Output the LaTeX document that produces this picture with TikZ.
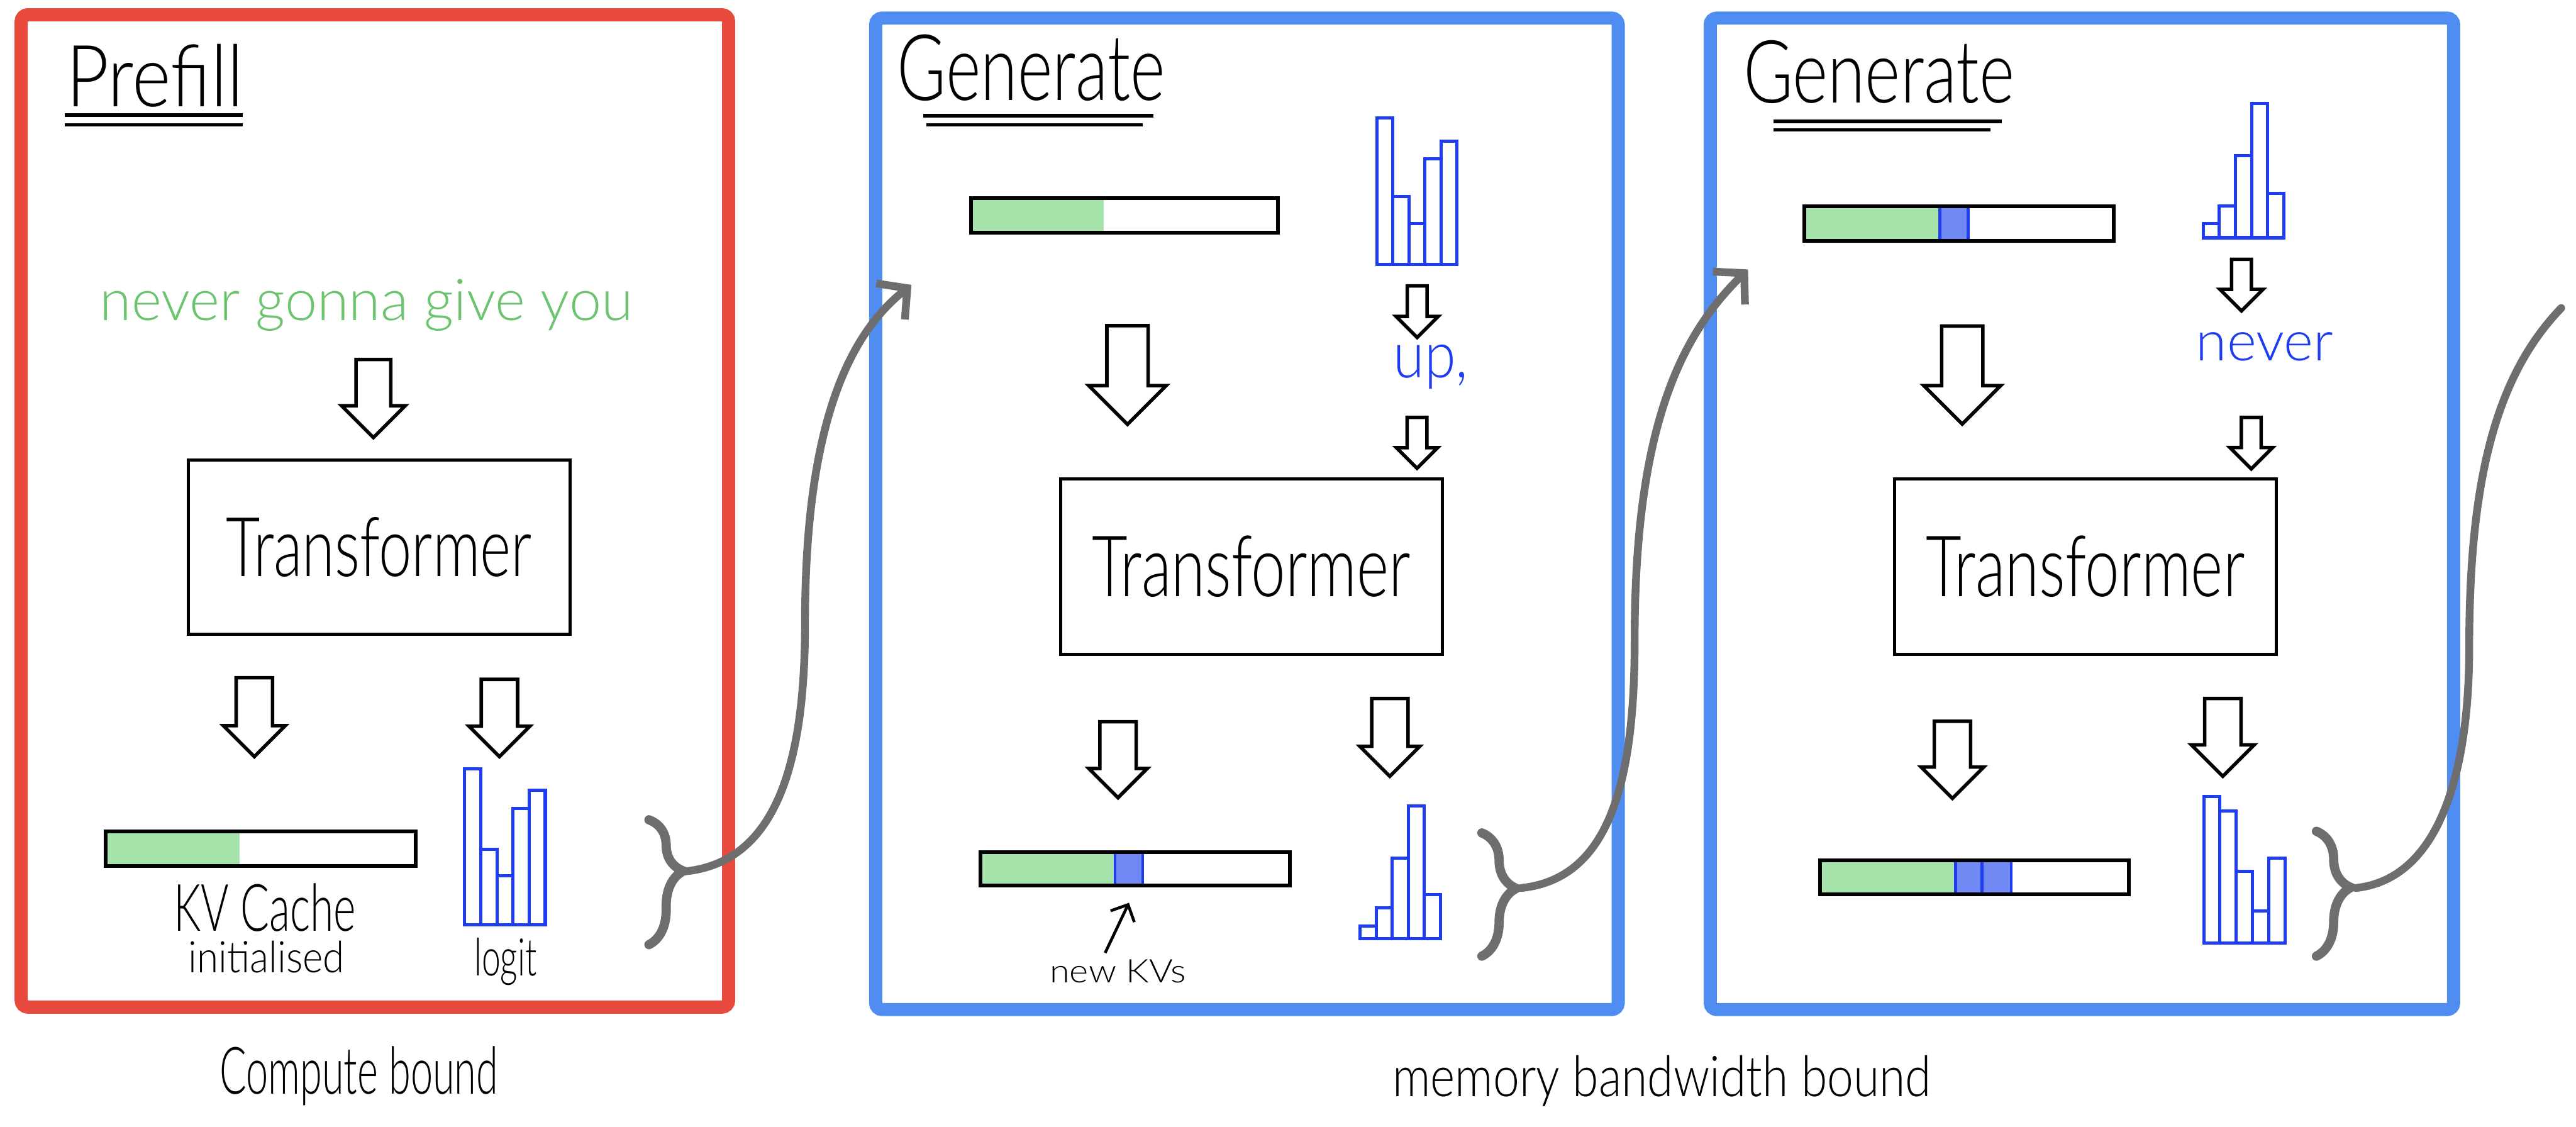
\documentclass[tikz,border=0pt]{standalone}
\usepackage{fontspec}
\usepackage{graphicx}
\usetikzlibrary{shapes.arrows,arrows.meta,decorations.pathreplacing}
\newfontfamily\handfont{Lato Light}
\definecolor{redframe}{HTML}{E84A3E}
\definecolor{blueframe}{HTML}{4F8EF0}
\definecolor{greenfill}{HTML}{A6E4AC}
\definecolor{greentext}{HTML}{6CC46F}
\definecolor{histblue}{HTML}{1E3CF0}
\definecolor{kvblue}{HTML}{7089F4}
\definecolor{curvegray}{HTML}{6E6E6E}
\newcommand{\hwtext}[3]{\resizebox{#1}{#2}{\handfont #3}}
\newcommand{\histo}[8]{%
  \foreach \i/\t in {0/#4,1/#5,2/#6,3/#7,4/#8}
    \draw[bar] ({#1+\i*#2},#3) rectangle ({#1+(\i+1)*#2},\t);}
\begin{document}
\begin{tikzpicture}[x=0.1mm,y=-0.1mm,
  frame/.style={line width=0.8mm, rounded corners=0.4mm},
  tbox/.style={draw, line width=0.55pt, inner sep=0pt},
  harrow/.style n args={4}{draw, line width=0.6pt, single arrow, shape border rotate=270,
     inner sep=#3, single arrow head extend=#4, minimum height=#1, minimum width=#2},
  bar/.style={draw=histblue, line width=0.55pt},
  kvbox/.style={draw, line width=0.65pt, inner sep=0pt},
  brc/.style={draw=curvegray, line width=1.6pt, line cap=round, decorate,
     decoration={brace, amplitude=2.1mm, aspect=#1}},
  flow/.style={draw=curvegray, line width=1.35pt, line cap=round},
  txt/.style={inner sep=0pt, anchor=base west},
  uline/.style={line width=0.6pt},
]
\useasboundingbox (0,0) rectangle (1568,686);

% ---------- frames ----------
\draw[frame, draw=redframe] (12.9,9) rectangle (443.5,613);
\draw[frame, draw=blueframe] (533,11) rectangle (985,614.5);
\draw[frame, draw=blueframe] (1041,11) rectangle (1493.5,614.5);

% ---------- titles ----------
\node[txt] (title1) at (39.5,65) {\hwtext{10.8mm}{3.8mm}{Prefill}};
\draw[uline] (39.5,70) -- (147.7,70);
\draw[uline] (39.5,76) -- (147.7,76);
\node[txt] (title2) at (545.5,61) {\hwtext{16.3mm}{4.0mm}{Generate}};
\draw[uline] (562,70.4) -- (702,70.4);
\draw[uline] (564,76) -- (695.6,76);
\node[txt] (title3) at (1060.5,62.7) {\hwtext{16.5mm}{3.8mm}{Generate}};
\draw[uline] (1079.4,73.9) -- (1218.5,73.9);
\draw[uline] (1079.4,79) -- (1211.6,79);

% ---------- panel 1 ----------
\node[txt, text=greentext] (prompt) at (60,195) {\resizebox{32.45mm}{!}{\handfont never gonna give you}};
\node[harrow={4.75mm}{3.66mm}{0.95mm}{0.88mm}] (a1) at (227.3,237.3) {};
\node[tbox, minimum width=23.24mm, minimum height=10.6mm] (tf1) at (230.8,333) {\hwtext{18.6mm}{3.6mm}{Transformer}};
\node[harrow={4.8mm}{3.55mm}{1.0mm}{0.78mm}] (a2) at (154.8,431) {};
\node[harrow={4.7mm}{3.5mm}{1.0mm}{0.75mm}] (a3) at (304,431.5) {};
\fill[greenfill] (64.3,506) rectangle (146,527);
\node[kvbox, minimum width=18.87mm, minimum height=2.1mm] (kv1) at (158.65,516.5) {};
\histo{282.8}{9.82}{563}{468}{517}{533}{492}{481}
\node[txt] (kvlab) at (105,566.7) {\hwtext{11.1mm}{2.9mm}{KV Cache}};
\node[txt] (initlab) at (114,592) {\hwtext{9.5mm}{1.93mm}{initialised}};
\node[txt] (logitlab) at (288,594) {\hwtext{3.8mm}{2.3mm}{logit}};
\draw[brc=0.41] (395,499) -- (395,575);
\coordinate (b1) at (417,530.4);

% ---------- panel 2 ----------
\fill[greenfill] (591,120.4) rectangle (672,141.7);
\node[kvbox, minimum width=18.7mm, minimum height=2.13mm] (kv2) at (684.5,131.05) {};
\histo{838}{9.78}{161}{71.9}{119.8}{136}{96.7}{86}
\node[harrow={3.14mm}{2.36mm}{0.5mm}{0.68mm}] (a4) at (862.6,186.7) {};
\node[txt, text=histblue] (tok1) at (847.5,229.7) {\hwtext{4.55mm}{2.0mm}{up,}};
\node[harrow={3.1mm}{2.3mm}{0.5mm}{0.65mm}] (a5) at (862.5,266.5) {};
\node[harrow={6.0mm}{4.5mm}{1.15mm}{1.1mm}] (a6) at (686.3,222) {};
\node[tbox, minimum width=23.21mm, minimum height=10.69mm] (tf2) at (761.75,344.95) {\hwtext{19.4mm}{3.7mm}{Transformer}};
\node[harrow={4.63mm}{3.37mm}{1.0mm}{0.68mm}] (a7) at (680.5,456.9) {};
\node[harrow={4.74mm}{3.45mm}{1.0mm}{0.72mm}] (a8) at (846,443.3) {};
\fill[greenfill] (596.8,518.7) rectangle (678.7,539);
\filldraw[fill=kvblue, draw=histblue, line width=0.5pt] (678.7,518.7) rectangle (695.6,539);
\node[kvbox, minimum width=18.82mm, minimum height=2.03mm] (kv3) at (690.9,528.85) {};
\histo{827.8}{9.8}{571.3}{563.6}{552.6}{522.3}{490.7}{544.5}
\node[txt] (newkv) at (638.3,598) {\hwtext{8.3mm}{1.4mm}{new KVs}};
\coordinate (nk0) at (672.7,580);
\coordinate (nk1) at (687.2,549.5);
\draw[line width=0.5pt, -{Straight Barb[length=0.8mm,width=1.6mm]}] (nk0) -- (nk1);
\draw[brc=0.45] (902,507) -- (902,582);
\coordinate (b2) at (926,540.5);

% ---------- panel 3 ----------
\fill[greenfill] (1098.3,125.5) rectangle (1180.7,146.7);
\filldraw[fill=kvblue, draw=histblue, line width=0.5pt] (1180.7,125.5) rectangle (1197.9,146.7);
\node[kvbox, minimum width=18.82mm, minimum height=2.12mm] (kv4) at (1192.4,136.1) {};
\histo{1341}{9.84}{144.7}{136}{125.5}{94.7}{63.1}{117.8}
\node[harrow={3.14mm}{2.4mm}{0.5mm}{0.7mm}] (a9) at (1364.4,170.5) {};
\node[txt, text=histblue] (tok2) at (1336,219.6) {\hwtext{8.34mm}{1.72mm}{never}};
\node[harrow={3.14mm}{2.4mm}{0.5mm}{0.7mm}] (a10) at (1370.3,266.7) {};
\node[harrow={5.97mm}{4.48mm}{1.15mm}{1.09mm}] (a11) at (1194.4,222) {};
\node[tbox, minimum width=23.25mm, minimum height=10.69mm] (tf3) at (1269.45,344.95) {\hwtext{19.4mm}{3.7mm}{Transformer}};
\node[harrow={4.69mm}{3.6mm}{1.0mm}{0.8mm}] (a12) at (1188.4,457) {};
\node[harrow={4.74mm}{3.63mm}{1.0mm}{0.81mm}] (a13) at (1353,443.3) {};
\fill[greenfill] (1107.9,523.7) rectangle (1190.3,544.5);
\filldraw[fill=kvblue, draw=histblue, line width=0.5pt] (1190.3,523.7) rectangle (1206.5,544.5);
\filldraw[fill=kvblue, draw=histblue, line width=0.5pt] (1206.5,523.7) rectangle (1224.3,544.5);
\node[kvbox, minimum width=18.78mm, minimum height=2.08mm] (kv5) at (1201.8,534.1) {};
\histo{1341.4}{9.9}{574}{485}{493.5}{530.4}{554.6}{522.3}
\draw[brc=0.45] (1410,506) -- (1410,582);
\coordinate (b3) at (1434,540.5);

% ---------- connectors between stages ----------
\coordinate (in2) at (554.8,173.4);
\coordinate (in3) at (1064,164);
\coordinate (out3) at (1559,187.5);
\draw[flow, -{Straight Barb[length=1.3mm,width=2.8mm]}] (b1) .. controls (470,525) and (490,470) .. (490,380) .. controls (490,262) and (515,205) .. (in2);
\draw[flow, -{Straight Barb[length=1.3mm,width=2.8mm]}] (b2) .. controls (978,535) and (995,480) .. (995,390) .. controls (995,262) and (1022,205) .. (in3);
\draw[flow] (b3) .. controls (1485,535) and (1503,470) .. (1503,394) .. controls (1503,290) and (1520,228) .. (out3);

% ---------- bottom captions ----------
\node[txt] (cap1) at (133,666) {\hwtext{16.96mm}{2.9mm}{Compute bound}};
\node[txt] (cap2) at (846.9,667.6) {\hwtext{32.8mm}{2.5mm}{memory bandwidth bound}};
\end{tikzpicture}
\end{document}
